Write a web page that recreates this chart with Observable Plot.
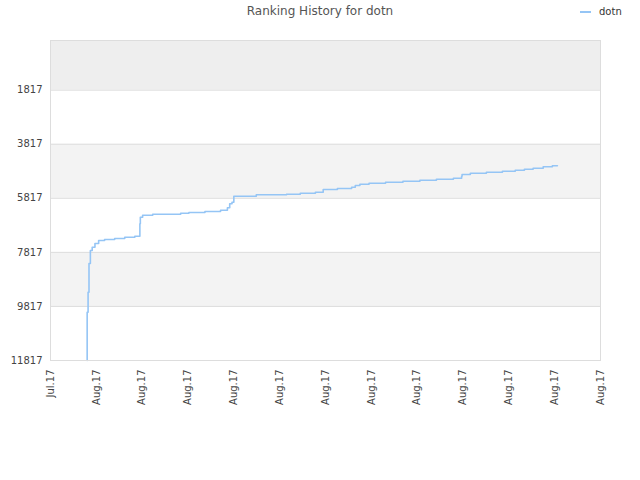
<!DOCTYPE html>
<html>
<head>
<meta charset="utf-8">
<script src="https://cdn.jsdelivr.net/npm/d3@7"></script>
<script src="https://cdn.jsdelivr.net/npm/@observablehq/plot@0.6"></script>
<style>
  body { margin: 0; background: #fff; }
  #wrap { position: relative; width: 640px; height: 480px; font-family: "DejaVu Sans", sans-serif; }
  #title { position: absolute; top: 4px; left: 0; width: 640px; text-align: center; font-size: 12px; color: #555; }
  #legend { position: absolute; top: 6px; left: 580px; font-size: 10px; color: #333; display: flex; align-items: center; }
  #legend .sw { width: 11px; height: 2px; background: #95c5f5; margin-right: 8px; }
  #chart { position: absolute; top: 0; left: 0; }
</style>
</head>
<body>
<div id="wrap">
  <div id="title">Ranking History for dotn</div>
  <div id="legend"><span class="sw"></span><span>dotn</span></div>
  <div id="chart"></div>
</div>
<script>
// x positions (tick index units) and rank values
const dayPos = [0.80, 0.80, 0.82, 0.84, 0.87, 0.91, 0.97, 1.05, 1.18, 1.40, 1.62, 1.84, 1.95, 1.96, 2.01, 2.23, 2.84, 3.02, 3.37, 3.71, 3.86, 3.91, 3.96, 4.00, 4.49, 5.15, 5.45, 5.78, 5.95, 6.26, 6.57, 6.65, 6.75, 6.95, 7.31, 7.69, 8.06, 8.42, 8.79, 8.97, 8.98, 9.16, 9.51, 9.86, 10.14, 10.34, 10.53, 10.75, 10.95, 11.06];
const ranks  = [11817, 10031, 9291, 8229, 7748, 7626, 7489, 7378, 7341, 7304, 7256, 7219, 6760, 6516, 6442, 6405, 6368, 6342, 6305, 6257, 6168, 6020, 5961, 5739, 5687, 5665, 5628, 5591, 5491, 5454, 5406, 5343, 5295, 5258, 5221, 5184, 5147, 5110, 5073, 4999, 4936, 4888, 4851, 4814, 4777, 4740, 4703, 4651, 4614, 4614];

const xTickLabels = ["Jul.17", "Aug.17", "Aug.17", "Aug.17", "Aug.17", "Aug.17", "Aug.17", "Aug.17", "Aug.17", "Aug.17", "Aug.17", "Aug.17", "Aug.17"];
const yTicks = [1817, 3817, 5817, 7817, 9817, 11817];
const bandStart = [-20, 3817, 7817];
const bandEnd   = [1817, 5817, 9817];
const bandFill  = ["#eeeeee", "#f3f3f3", "#f3f3f3"];

const series = dayPos.map((d, i) => ({ x: d, rank: ranks[i] }));
const bands = bandStart.map((s, i) => ({ y1: s, y2: bandEnd[i], fill: bandFill[i] }));

const chart = Plot.plot({
  width: 640,
  height: 480,
  marginLeft: 50,
  marginRight: 40,
  marginTop: 40,
  marginBottom: 120,
  style: { fontFamily: "DejaVu Sans, sans-serif", fontSize: "10px", color: "#444", background: "transparent" },
  x: { domain: [0, 12], ticks: d3.range(13), tickFormat: i => xTickLabels[i], tickRotate: -90, tickSize: 0, tickPadding: 9, label: null },
  y: { domain: [-20, 11817], reverse: true, ticks: yTicks, tickFormat: d => String(d), tickSize: 0, tickPadding: 8, label: null },
  marks: [
    Plot.rectY(bands, { x1: 0, x2: 12, y1: "y1", y2: "y2", fill: "fill" }),
    Plot.ruleY(yTicks, { stroke: "#dddddd", strokeWidth: 1 }),
    Plot.line(series, { x: "x", y: "rank", curve: "step-after", stroke: "#95c5f5", strokeWidth: 1.6 }),
    Plot.frame({ stroke: "#dddddd" })
  ]
});
document.getElementById("chart").appendChild(chart);
</script>
</body>
</html>
